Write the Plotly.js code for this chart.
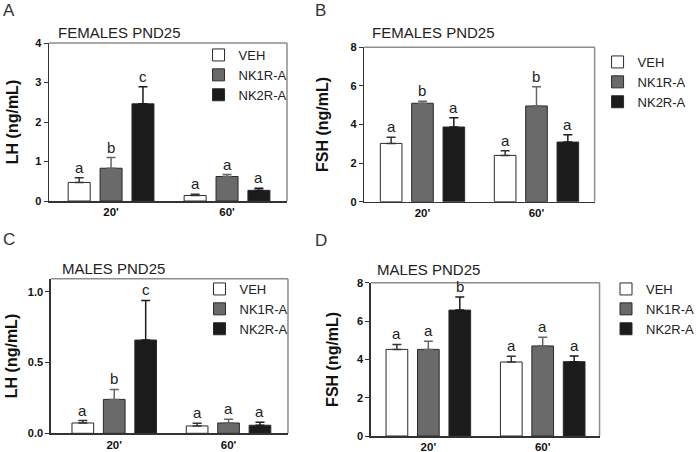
<!DOCTYPE html>
<html>
<head>
<meta charset="utf-8">
<script src="https://cdn.plot.ly/plotly-3.0.1.min.js"></script>
<style>html,body{margin:0;padding:0;background:#fff;}#chart{width:700px;height:452px;}</style>
</head>
<body>
<div id="chart"></div>
<script>
// ---------------- DATA ----------------
const groups = ["20'", "60'"];
const seriesNames = ["VEH", "NK1R-A", "NK2R-A"];

// Panel A: LH, females PND25
const lhFemVeh = [0.47, 0.14], lhFemVehErr = [0.12, 0.03];
const lhFemNk1 = [0.83, 0.62], lhFemNk1Err = [0.27, 0.05];
const lhFemNk2 = [2.46, 0.27], lhFemNk2Err = [0.43, 0.05];
const lhFemLetters = [["a", "a"], ["b", "a"], ["c", "a"]];

// Panel B: FSH, females PND25
const fshFemVeh = [3.02, 2.40], fshFemVehErr = [0.32, 0.24];
const fshFemNk1 = [5.10, 4.96], fshFemNk1Err = [0.10, 1.00];
const fshFemNk2 = [3.87, 3.09], fshFemNk2Err = [0.48, 0.38];
const fshFemLetters = [["a", "a"], ["b", "b"], ["a", "a"]];

// Panel C: LH, males PND25
const lhMalVeh = [0.073, 0.052], lhMalVehErr = [0.017, 0.019];
const lhMalNk1 = [0.24, 0.073], lhMalNk1Err = [0.07, 0.026];
const lhMalNk2 = [0.66, 0.057], lhMalNk2Err = [0.28, 0.021];
const lhMalLetters = [["a", "a"], ["b", "a"], ["c", "a"]];

// Panel D: FSH, males PND25
const fshMalVeh = [4.52, 3.86], fshMalVehErr = [0.26, 0.30];
const fshMalNk1 = [4.52, 4.70], fshMalNk1Err = [0.42, 0.45];
const fshMalNk2 = [6.57, 3.88], fshMalNk2Err = [0.68, 0.29];
const fshMalLetters = [["a", "a"], ["a", "a"], ["b", "a"]];

const panelLabels = ["A", "B", "C", "D"];
const panelTitles = ["FEMALES PND25", "FEMALES PND25", "MALES PND25", "MALES PND25"];
const yTitles = ["LH (ng/mL)", "FSH (ng/mL)", "LH (ng/mL)", "FSH (ng/mL)"];
const yTickVals = [[0, 1, 2, 3, 4], [0, 2, 4, 6, 8], [0, 0.5, 1.0], [0, 2, 4, 6, 8]];
const yTickText = [["0", "1", "2", "3", "4"], ["0", "2", "4", "6", "8"], ["0.0", "0.5", "1.0"], ["0", "2", "4", "6", "8"]];

// ---------------- STYLE ----------------
const FONT = "Arial, 'Liberation Sans', sans-serif";
const W = 700, H = 452;
const fills = ["#ffffff", "#6a6a6a", "#1b1b1b"];
const errColors = ["#333333", "#666666", "#1b1b1b"];
const bargap = 0.175;
const step = (1 - bargap) / 3;

const panels = [
  {vals: [lhFemVeh, lhFemNk1, lhFemNk2], errs: [lhFemVehErr, lhFemNk1Err, lhFemNk2Err], letters: lhFemLetters,
   px: [50, 292], py: [43, 201], xr: [-0.534, 1.517], yr: [0, 4], standoff: 12,
   legend: {x: 202, y: 40}, title: {x: 57, y: 32}, label: {x: 1, y: 10}},
  {vals: [fshFemVeh, fshFemNk1, fshFemNk2], errs: [fshFemVehErr, fshFemNk1Err, fshFemNk2Err], letters: fshFemLetters,
   px: [370.7, 605], py: [47.3, 201.7], xr: [-0.51, 1.51], yr: [0, 8], standoff: 18,
   legend: {x: 608, y: 47}, title: {x: 376, y: 33}, label: {x: 318, y: 10}},
  {vals: [lhMalVeh, lhMalNk1, lhMalNk2], errs: [lhMalVehErr, lhMalNk1Err, lhMalNk2Err], letters: lhMalLetters,
   px: [51.7, 293], py: [278.7, 433.3], xr: [-0.555, 1.52], yr: [0, 1.094], standoff: 6,
   legend: {x: 203, y: 274}, title: {x: 61, y: 268}, label: {x: 1, y: 239}},
  {vals: [fshMalVeh, fshMalNk1, fshMalNk2], errs: [fshMalVehErr, fshMalNk1Err, fshMalNk2Err], letters: fshMalLetters,
   px: [377.3, 610], py: [282.7, 436], xr: [-0.503, 1.497], yr: [0, 8], standoff: 14,
   legend: {x: 617, y: 274}, title: {x: 382, y: 269}, label: {x: 318, y: 240}}
];

const traces = [];
const annotations = [];
const shapes = [];
const layout = {
  width: W, height: H,
  margin: {l: 0, r: 0, t: 0, b: 0},
  paper_bgcolor: "#fff", plot_bgcolor: "#fff",
  barmode: "group", bargap: bargap, bargroupgap: 0.31,
  font: {family: FONT, color: "#222"},
  showlegend: true
};

panels.forEach((p, k) => {
  const sfx = k === 0 ? "" : String(k + 1);
  const xa = "x" + sfx, ya = "y" + sfx;
  const legName = "legend" + sfx;
  p.vals.forEach((v, i) => {
    traces.push({
      type: "bar", x: groups, y: v, name: seriesNames[i],
      xaxis: xa, yaxis: ya, legend: legName, showlegend: true,
      marker: {color: fills[i], line: {color: "#2a2a2a", width: 1}},
      error_y: {type: "data", array: p.errs[i], arrayminus: v.map(() => 0), symmetric: false,
                color: errColors[i], thickness: 1.5, width: 4.5},
      hoverinfo: "none"
    });
    // significance letters above each error bar
    v.forEach((val, g) => {
      annotations.push({
        xref: xa, yref: ya, x: g + (i - 1) * step, y: val + p.errs[i][g],
        text: p.letters[i][g], showarrow: false, yanchor: "bottom", xanchor: "center",
        font: {family: FONT, size: 15, color: "#222"}, yshift: 0
      });
    });
  });
  layout["xaxis" + sfx] = {
    domain: [p.px[0] / W, p.px[1] / W], anchor: ya, range: p.xr, type: "category",
    showline: true, linecolor: "#333", linewidth: 1.5, ticks: "", showgrid: false, zeroline: false,
    tickfont: {family: FONT, size: 11.5, color: "#111", weight: 700}, fixedrange: true
  };
  layout["yaxis" + sfx] = {
    domain: [1 - p.py[1] / H, 1 - p.py[0] / H], anchor: xa, range: p.yr,
    tickvals: yTickVals[k], ticktext: yTickText[k],
    showline: true, linecolor: "#333", linewidth: 1.5, ticks: "outside", ticklen: 4, tickwidth: 1, tickcolor: "#333",
    showgrid: false, zeroline: false,
    tickfont: {family: FONT, size: 11, color: "#111", weight: 700},
    title: {text: yTitles[k], standoff: p.standoff, font: {family: FONT, size: 16, color: "#111", weight: 700}},
    fixedrange: true
  };
  layout[legName] = {
    x: p.legend.x / W, y: 1 - p.legend.y / H, xanchor: "left", yanchor: "top",
    xref: "paper", yref: "paper", bgcolor: "rgba(0,0,0,0)", borderwidth: 0,
    font: {family: FONT, size: 13, color: "#222"}, traceorder: "normal"
  };
  // top and right frame (lighter gray)
  shapes.push({type: "line", xref: xa + " domain", yref: ya + " domain", x0: 0, x1: 1, y0: 1, y1: 1,
               line: {color: "#8c8c8c", width: 1.5}, layer: "below"});
  shapes.push({type: "line", xref: xa + " domain", yref: ya + " domain", x0: 1, x1: 1, y0: 0, y1: 1,
               line: {color: "#8c8c8c", width: 1.5}, layer: "below"});
  // panel title
  annotations.push({xref: "paper", yref: "paper", x: p.title.x / W, y: 1 - p.title.y / H,
    xanchor: "left", yanchor: "middle", text: panelTitles[k], showarrow: false,
    font: {family: FONT, size: 15, color: "#222"}});
  // panel letter
  annotations.push({xref: "paper", yref: "paper", x: p.label.x / W, y: 1 - p.label.y / H,
    xanchor: "left", yanchor: "middle", text: panelLabels[k], showarrow: false,
    font: {family: FONT, size: 17, color: "#333"}});
});

layout.annotations = annotations;
layout.shapes = shapes;

Plotly.newPlot("chart", traces, layout, {staticPlot: true, displayModeBar: false});
</script>
</body>
</html>
